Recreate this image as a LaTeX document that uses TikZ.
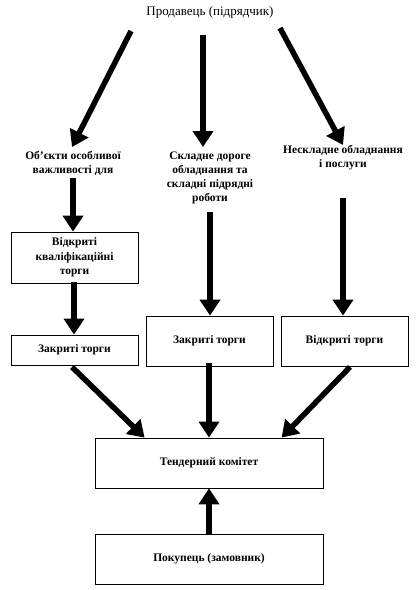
\documentclass[tikz,border=0pt]{standalone}
\usepackage{fontspec}
\setmainfont{Liberation Serif}
\usetikzlibrary{arrows.meta,calc}
\begin{document}
\begin{tikzpicture}[x=1pt,y=-1pt,
  arr/.style={line width=5.5pt,-{Triangle[length=16pt,width=20pt]}},
  tbox/.style={draw,line width=0.8pt,minimum width=127pt,inner sep=1pt,align=center,font=\fontsize{11.5}{14.5}\selectfont\bfseries},
  wbox/.style={draw,line width=0.8pt,minimum width=228pt,minimum height=50pt,align=center,font=\fontsize{11.5}{14}\selectfont\bfseries},
  ftext/.style={align=center,inner sep=0pt,font=\fontsize{11.5}{14}\selectfont\bfseries}]
\useasboundingbox (0,0) rectangle (420,590);
\node[font=\fontsize{13}{15}\selectfont] (top) at (210,12) {Продавець (підрядчик)};
\node[ftext] (obj1) at (73,163) {Об’єкти особливої\\важливості для};
\node[ftext] (obj2) at (210,177.5) {Складне дороге\\обладнання та\\складні підрядні\\роботи};
\node[ftext] (obj3) at (343,158) {Нескладне обладнання\\і послуги};
\node[tbox,minimum height=51pt] (b1) at (74.5,257.5) {Відкриті\\кваліфікаційні\\торги};
\node[tbox,minimum height=30pt] (b2) at (74.5,350) {Закриті торги};
\node[tbox,minimum height=50pt] (b3) at (209.5,341) {Закриті торги};
\node[tbox,minimum height=50pt] (b4) at (344.5,341) {Відкриті торги};
\node[wbox] (tender) at (209,463) {Тендерний комітет};
\node[wbox] (buyer) at (209,559) {Покупець (замовник)};
\coordinate (s1) at (131,31);
\coordinate (e1) at (72,147);
\coordinate (s2) at (203,35);
\coordinate (e2) at (203,147);
\coordinate (s3) at (280,28);
\coordinate (e3) at (343,145);
\coordinate (s4) at (73,178);
\coordinate (s5) at (74,282);
\coordinate (s6) at (210,212);
\coordinate (s7) at (343,198);
\coordinate (s8) at (72,367);
\coordinate (s9) at (209,363);
\coordinate (s10) at (350,367);
\draw[arr] (s1) -- (e1);
\draw[arr] (s2) -- (e2);
\draw[arr] (s3) -- (e3);
\draw[arr] (s4) -- (s4 |- b1.north);
\draw[arr] (s5) -- (s5 |- b2.north);
\draw[arr] (s6) -- (s6 |- b3.north);
\draw[arr] (s7) -- (s7 |- b4.north);
\draw[arr] (s8) -- ($(tender.north west)+(50,0)$);
\draw[arr] (s9) -- (s9 |- tender.north);
\draw[arr] (s10) -- ($(tender.north west)+(187,0)$);
\draw[arr] (buyer.north) -- (tender.south);
\end{tikzpicture}
\end{document}
